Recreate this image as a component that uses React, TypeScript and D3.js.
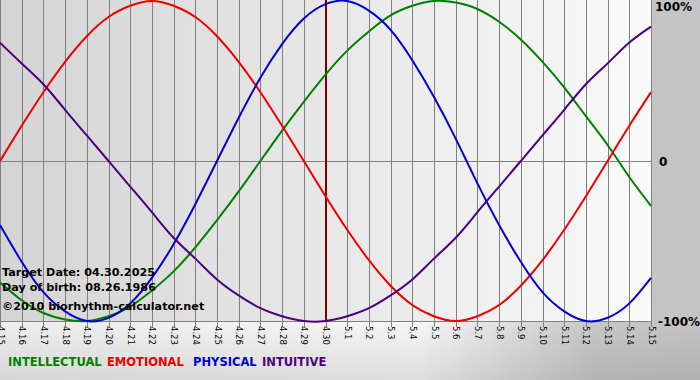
import React, { useEffect, useRef } from "react";
import * as d3 from "d3";

const dayLabels = [
  "4.15","4.16","4.17","4.18","4.19","4.20","4.21","4.22","4.23","4.24","4.25","4.26","4.27","4.28","4.29","4.30",
  "5.1","5.2","5.3","5.4","5.5","5.6","5.7","5.8","5.9","5.10","5.11","5.12","5.13","5.14","5.15",
];
const physical = [-0.40,-0.63,-0.82,-0.94,-1.00,-0.98,-0.89,-0.73,-0.52,-0.27,0,0.27,0.52,0.73,0.89,0.98,1.00,0.94,0.82,0.63,0.40,0.14,-0.14,-0.40,-0.63,-0.82,-0.94,-1.00,-0.98,-0.89,-0.73];
const emotional = [0,0.22,0.43,0.62,0.78,0.90,0.97,1.00,0.97,0.90,0.78,0.62,0.43,0.22,0,-0.22,-0.43,-0.62,-0.78,-0.90,-0.97,-1.00,-0.97,-0.90,-0.78,-0.62,-0.43,-0.22,0,0.22,0.43];
const intellectual = [-0.76,-0.87,-0.95,-0.99,-1.00,-0.97,-0.91,-0.81,-0.69,-0.54,-0.37,-0.19,0,0.19,0.37,0.54,0.69,0.81,0.91,0.97,1.00,0.99,0.95,0.87,0.76,0.62,0.46,0.28,0.10,-0.10,-0.28];
const intuitive = [0.74,0.61,0.48,0.32,0.16,0,-0.16,-0.32,-0.48,-0.61,-0.74,-0.84,-0.92,-0.97,-1.00,-1.00,-0.97,-0.92,-0.84,-0.74,-0.61,-0.48,-0.32,-0.16,0,0.16,0.32,0.48,0.61,0.74,0.84];
const targetIndex = 15;
const infoLines = ["Target Date: 04.30.2025", "Day of birth: 08.26.1986", "\u00A92010 biorhythm-calculator.net"];
const yTickLabels = ["100%", "0", "-100%"];
const yTickValues = [1, 0, -1];
const legendNames = ["INTELLECTUAL", "EMOTIONAL", "PHYSICAL", "INTUITIVE"];

const W = 700, H = 380;

export default function App() {
  const ref = useRef<SVGSVGElement>(null);
  useEffect(() => {
    document.body.style.margin = "0";
    const svg = d3.select(ref.current);
    svg.selectAll("*").remove();
    const x = d3.scaleLinear().domain([0, dayLabels.length - 1]).range([0, 651]);
    const y = d3.scaleLinear().domain([-1, 1]).range([321, 1]);

    const defs = svg.append("defs");
    const bg = defs.append("linearGradient").attr("id", "bgg").attr("x1", "0").attr("x2", "1").attr("y1", "0").attr("y2", "0");
    bg.append("stop").attr("offset", "0").attr("stop-color", "#eeeeee");
    bg.append("stop").attr("offset", "0.6").attr("stop-color", "#f6f6f6");
    bg.append("stop").attr("offset", "0.85").attr("stop-color", "#c8c8c8");
    bg.append("stop").attr("offset", "1").attr("stop-color", "#c4c4c4");
    const pg = defs.append("linearGradient").attr("id", "plotg").attr("x1", "0").attr("x2", "1").attr("y1", "0").attr("y2", "0");
    pg.append("stop").attr("offset", "0").attr("stop-color", "#d4d4d4");
    pg.append("stop").attr("offset", "0.35").attr("stop-color", "#e2e2e2");
    pg.append("stop").attr("offset", "1").attr("stop-color", "#fafafa");
    const vg = defs.append("linearGradient").attr("id", "vg").attr("x1", "0").attr("x2", "0").attr("y1", "0").attr("y2", "1");
    vg.append("stop").attr("offset", "0").attr("stop-color", "#000").attr("stop-opacity", 0);
    vg.append("stop").attr("offset", "1").attr("stop-color", "#000").attr("stop-opacity", 0.1);

    svg.append("rect").attr("width", W).attr("height", H).attr("fill", "url(#bgg)");
    svg.append("rect").attr("y", 321).attr("width", W).attr("height", H - 321).attr("fill", "url(#vg)");
    svg.append("rect").attr("x", 651).attr("width", W - 651).attr("height", 322).attr("fill", "#c4c4c4");
    svg.append("rect").attr("x", 0).attr("y", 0).attr("width", 651).attr("height", 321).attr("fill", "url(#plotg)");

    // grid
    const g = svg.append("g").attr("shape-rendering", "crispEdges");
    g.selectAll("line.v").data(dayLabels).join("line")
      .attr("x1", (_, i) => Math.round(x(i)) + 0.5).attr("x2", (_, i) => Math.round(x(i)) + 0.5)
      .attr("y1", 0).attr("y2", 327).attr("stroke", "#808080");
    g.append("line").attr("x1", 0).attr("x2", 652).attr("y1", Math.round(y(0)) + 0.5).attr("y2", Math.round(y(0)) + 0.5).attr("stroke", "#808080");
    g.append("line").attr("x1", 0).attr("x2", 652).attr("y1", 321.5).attr("y2", 321.5).attr("stroke", "#808080");

    // target line
    svg.append("line").attr("x1", x(targetIndex) + 0.5).attr("x2", x(targetIndex) + 0.5)
      .attr("y1", 0).attr("y2", 321).attr("stroke", "#800000").attr("stroke-width", 2);

    const series = [
      { data: intellectual, color: "#008000" },
      { data: emotional, color: "#ee0000" },
      { data: physical, color: "#0000cc" },
      { data: intuitive, color: "#4b0082" },
    ];
    const line = d3.line<number>().x((_, i) => x(i)).y((d) => y(d)).curve(d3.curveNatural);
    svg.append("g").selectAll("path").data(series).join("path")
      .attr("d", (s) => line(s.data)).attr("fill", "none").attr("stroke", (s) => s.color).attr("stroke-width", 2);

    // x labels
    svg.append("g").selectAll("text").data(dayLabels).join("text")
      .attr("transform", (_, i) => `translate(${x(i) + 0.5},326) rotate(90)`)
      .attr("dominant-baseline", "central").attr("font-family", "DejaVu Sans, Tahoma").attr("font-size", 8.5)
      .attr("fill", "#000").text((d) => d);

    // y labels
    const yLabelX = [655, 659, 658];
    const yLabelBase = [11, 166, 326];
    svg.append("g").selectAll("text").data(yTickLabels).join("text")
      .attr("x", (_, i) => yLabelX[i]).attr("y", (_, i) => yLabelBase[i] + 0 * yTickValues[i])
      .attr("font-family", "DejaVu Sans, Verdana").attr("font-weight", "bold").attr("font-size", 12)
      .attr("fill", "#000").text((d) => d);

    // info text
    const infoBase = [276, 291, 310];
    svg.append("g").selectAll("text").data(infoLines).join("text")
      .attr("x", 2).attr("y", (_, i) => infoBase[i])
      .attr("font-family", "DejaVu Sans, Verdana").attr("font-weight", "bold").attr("font-size", 11.2)
      .attr("fill", "#000").text((d) => d);

    // legend
    const legendX = [8, 107, 193, 262];
    const legendColors = ["#008000", "#ee0000", "#0000cc", "#4b0082"];
    svg.append("g").selectAll("text").data(legendNames).join("text")
      .attr("x", (_, i) => legendX[i]).attr("y", 366)
      .attr("font-family", "DejaVu Sans, Verdana").attr("font-weight", "bold").attr("font-size", 11.5)
      .attr("fill", (_, i) => legendColors[i]).text((d) => d);
  }, []);
  return <svg ref={ref} width={W} height={H} style={{ display: "block", position: "absolute", left: 0, top: 0 }} />;
}
